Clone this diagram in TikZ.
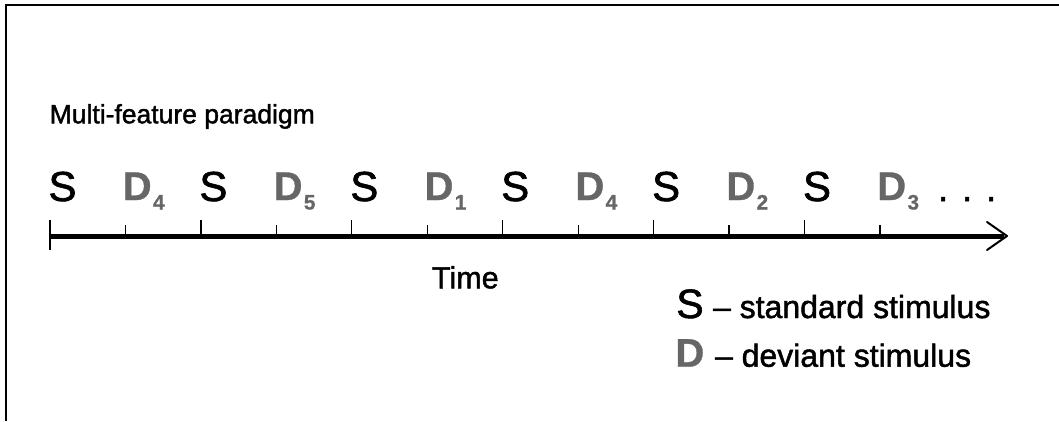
\documentclass[tikz,border=0pt]{standalone}
\usepackage{fontspec}
\setmainfont{Liberation Sans}[FakeBold=1.5]
\newfontfamily\boldfam{Liberation Sans Bold}[FakeBold=0.8]
\definecolor{devgray}{RGB}{102,102,102}
\newcommand{\fsz}[1]{\fontsize{#1}{#1}\selectfont}
\begin{document}
\begin{tikzpicture}[x=1pt,y=-1pt,
  txt/.style={inner sep=0pt, outer sep=0pt, anchor=base west},
  stdl/.style={txt, font=\fsz{42}},
  devl/.style={txt, font=\boldfam\fsz{40}, text=devgray},
  subl/.style={txt, font=\boldfam\fsz{21}, text=devgray},
  axisline/.style={line width=5pt},
  tickline/.style={line width=1.3pt},
  headline/.style={line width=2pt, line join=round, line cap=round},
  frameline/.style={line width=2pt}
]
\useasboundingbox (0,0) rectangle (1059,421);
% frame
\coordinate (fbl) at (6,421);
\coordinate (ftl) at (6,5);
\coordinate (ftr) at (1059,5);
\draw[frameline] (fbl) -- (ftl) -- (ftr);
% title
\node[txt, font=\fsz{26.5}] (title) at (49.7,123.3) {Multi-feature paradigm};
% tick coordinates
\foreach \k in {0,...,11} {
  \coordinate (t\k) at ({50+75.45*\k},236);
}
% axis
\coordinate (axend) at (1004,236);
\coordinate (tip) at (1007,236);
\coordinate (ah1) at (987,222);
\coordinate (ah2) at (987,250);
\draw[axisline] (t0) -- (axend);
\draw[headline] (ah1) -- (tip) -- (ah2);
% ticks
\coordinate (t0a) at (50,220);
\coordinate (t0b) at (50,250);
\draw[tickline] (t0a) -- (t0b);
\foreach \k in {2,4,...,10} {
  \coordinate (ta\k) at ({50+75.45*\k},220);
  \draw[tickline] (ta\k) -- (t\k);
}
\foreach \k in {1,3,...,11} {
  \coordinate (ta\k) at ({50+75.45*\k},225);
  \draw[tickline] (ta\k) -- (t\k);
}
% stimulus labels
\foreach \k in {0,2,...,10} {
  \node[stdl] (s\k) at ({50+75.45*\k-1.5},201) {S};
}
\foreach \k/\n in {1/4,3/5,5/1,7/4,9/2,11/3} {
  \node[devl] (d\k) at ({50+75.45*\k-2.7},200) {D};
  \node[subl] (n\k) at ({50+75.45*\k+27.5},209.5) {\n};
}
\node[txt, font=\fsz{37}] (dots) at (938,201) {. . .};
% axis label
\node[txt, font=\fsz{30.5}] (time) at (432,288.3) {Time};
% legend
\node[txt, font=\fsz{41}] (legS) at (676.3,318) {S};
\node[txt, font=\fsz{32}] (legSt) at (713,318) {– standard stimulus};
\node[txt, font=\boldfam\fsz{40}, text=devgray] (legD) at (675.4,366.7) {D};
\node[txt, font=\fsz{32}] (legDt) at (715,366.7) {– deviant stimulus};
\end{tikzpicture}
\end{document}
